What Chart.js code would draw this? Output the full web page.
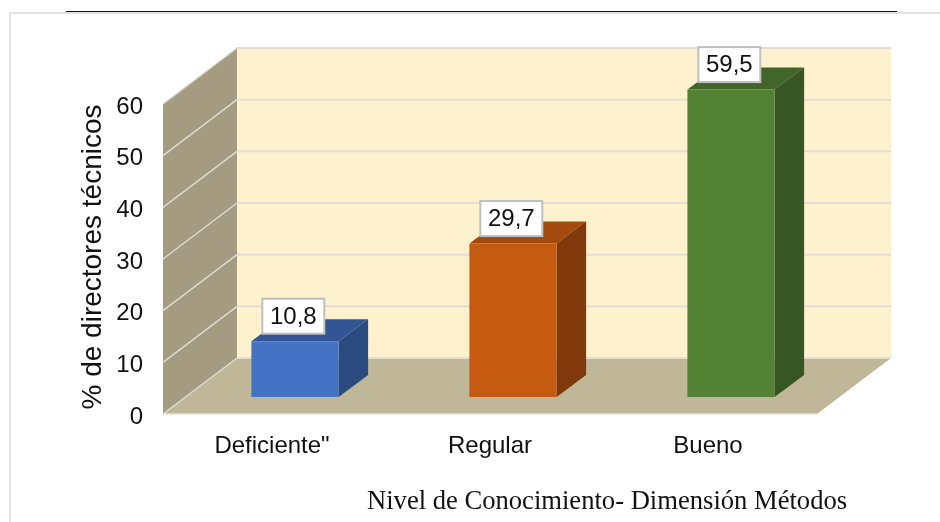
<!DOCTYPE html>
<html>
<head>
<meta charset="utf-8">
<script src="https://cdn.jsdelivr.net/npm/chart.js@4/dist/chart.umd.min.js"></script>
<style>
  html, body { margin: 0; padding: 0; background: #fff; overflow: hidden; }
  #wrap { position: relative; width: 940px; height: 522px; }
  canvas { position: absolute; left: 0; top: 0; }
  .frameV { position: absolute; left: 9px; top: 12px; width: 2px; height: 510px; background: #e2e2e2; }
  .frameH { position: absolute; left: 9px; top: 12px; width: 931px; height: 2px; background: #e2e2e2; }
  .rule { position: absolute; left: 66px; top: 11px; width: 831px; height: 1px; background: #111; }
</style>
</head>
<body>
<div id="wrap">
  <div class="frameV"></div>
  <div class="frameH"></div>
  <div class="rule"></div>
  <canvas id="chart" width="940" height="522"></canvas>
</div>
<script>
// datos
const categories = ['Deficiente"', 'Regular', 'Bueno'];
const values = [10.8, 29.7, 59.5];
const valueLabels = ['10,8', '29,7', '59,5'];
const yTicks = [0, 10, 20, 30, 40, 50, 60];
const yTitle = '% de directores técnicos';
const xTitle = 'Nivel de Conocimiento- Dimensión Métodos';

// colores
const frontColors = ['#4472c4', '#c55a11', '#548235'];
const topColors = ['#335593', '#a34a0e', '#426529'];
const sideColors = ['#2b4a80', '#7f390b', '#375623'];

// profundidad de la caja y de las barras (falso 3D)
const planeDy = -3;          // el plano frontal queda algo mas arriba que las etiquetas
const wallDx = 74, wallDy = -56;
const shiftDx = 23, shiftDy = -17 + planeDy;
const barDx = 29.5, barDy = -22;

function poly(ctx, pts, fill) {
    ctx.beginPath();
    pts.forEach((p, i) => i ? ctx.lineTo(p[0], p[1]) : ctx.moveTo(p[0], p[1]));
    ctx.closePath();
    ctx.fillStyle = fill;
    ctx.fill();
}

function seg(ctx, x0, y0, x1, y1, color, w) {
    ctx.beginPath();
    ctx.moveTo(x0, y0);
    ctx.lineTo(x1, y1);
    ctx.strokeStyle = color;
    ctx.lineWidth = w;
    ctx.stroke();
}

const box3d = {
    id: 'box3d',
    beforeDatasetsDraw(chart) {
        const { ctx, chartArea: a, scales: { y } } = chart;
        const top = y.getPixelForValue(60) + planeDy, bot = y.getPixelForValue(0) + planeDy;
        ctx.save();
        // pared lateral, fondo y piso
        poly(ctx, [[a.left, top], [a.left + wallDx, top + wallDy], [a.left + wallDx, bot + wallDy], [a.left, bot]], '#a49b80');
        poly(ctx, [[a.left + wallDx, top + wallDy], [a.right + wallDx, top + wallDy], [a.right + wallDx, bot + wallDy], [a.left + wallDx, bot + wallDy]], '#fef1cd');
        poly(ctx, [[a.left, bot], [a.right, bot], [a.right + wallDx, bot + wallDy], [a.left + wallDx, bot + wallDy]], '#c0b698');
        yTicks.forEach(t => {
            const py = y.getPixelForValue(t) + planeDy;
            seg(ctx, a.left, py, a.left + wallDx, py + wallDy, '#dddbd2', 1.5);
            seg(ctx, a.left + wallDx, py + wallDy, a.right + wallDx, py + wallDy, '#e3ded2', 2);
        });
        seg(ctx, a.left, bot, a.right, bot, '#e6e2d6', 1.5);
        // caras superior y lateral de cada barra
        const meta = chart.getDatasetMeta(0);
        ctx.translate(shiftDx, shiftDy);
        meta.data.forEach((bar, i) => {
            const p = bar.getProps(['x', 'y', 'base', 'width'], true);
            const l = p.x - p.width / 2, r = p.x + p.width / 2;
            poly(ctx, [[l, p.y], [r, p.y], [r + barDx, p.y + barDy], [l + barDx, p.y + barDy]], topColors[i]);
            poly(ctx, [[r, p.y], [r + barDx, p.y + barDy], [r + barDx, p.base + barDy], [r, p.base]], sideColors[i]);
        });
        // la cara frontal la dibuja Chart.js desplazada
        ctx.restore();
        ctx.save();
        ctx.translate(shiftDx, shiftDy);
    },
    afterDatasetsDraw(chart) {
        const { ctx } = chart;
        ctx.restore();
        const meta = chart.getDatasetMeta(0);
        ctx.save();
        ctx.font = '24px "Liberation Sans"';
        ctx.textAlign = 'center';
        ctx.textBaseline = 'middle';
        meta.data.forEach((bar, i) => {
            const p = bar.getProps(['x', 'y'], true);
            const cx = p.x + shiftDx - 1.7, cy = p.y + shiftDy - 25;
            ctx.fillStyle = '#fff';
            ctx.fillRect(cx - 31, cy - 17.5, 62, 35);
            ctx.strokeStyle = '#bfbfbf';
            ctx.lineWidth = 2;
            ctx.strokeRect(cx - 31, cy - 17.5, 62, 35);
            ctx.fillStyle = '#111';
            ctx.fillText(valueLabels[i], cx, cy + 1);
        });
        // titulo del eje y, centrado sobre el plano frontal
        ctx.save();
        ctx.translate(93, 257);
        ctx.rotate(-Math.PI / 2);
        ctx.font = '28px "Liberation Sans"';
        ctx.fillStyle = '#111';
        ctx.fillText(yTitle, 0, 0);
        ctx.restore();
        // titulo del eje x, desplazado a la derecha como en el original
        ctx.font = '26.6px "Liberation Serif"';
        ctx.textAlign = 'left';
        ctx.fillStyle = '#111';
        ctx.fillText(xTitle, 367, 502);
        ctx.restore();
    }
};

new Chart(document.getElementById('chart'), {
    type: 'bar',
    data: {
        labels: categories,
        datasets: [{
            data: values,
            backgroundColor: frontColors,
            borderWidth: 0,
            barPercentage: 0.4,
            categoryPercentage: 1
        }]
    },
    options: {
        responsive: false,
        animation: false,
        layout: { padding: { top: 107, right: 123, bottom: 0, left: 0 } },
        plugins: { legend: { display: false }, tooltip: { enabled: false }, title: { display: false } },
        scales: {
            x: {
                grid: { display: false, drawTicks: false },
                border: { display: false },
                ticks: {
                    color: '#111',
                    padding: 15,
                    maxRotation: 0,
                    font: { family: '"Liberation Sans"', size: 24 }
                },
                afterFit: s => { s.height = 105; }
            },
            y: {
                min: 0,
                max: 60,
                afterBuildTicks: s => { s.ticks = yTicks.map(v => ({ value: v })); },
                grid: { display: false, drawTicks: false },
                border: { display: false },
                ticks: {
                    color: '#111',
                    padding: 20,
                    font: { family: '"Liberation Sans"', size: 24 }
                },
                afterFit: s => { s.width = 163; }
            }
        }
    },
    plugins: [box3d]
});
</script>
</body>
</html>
